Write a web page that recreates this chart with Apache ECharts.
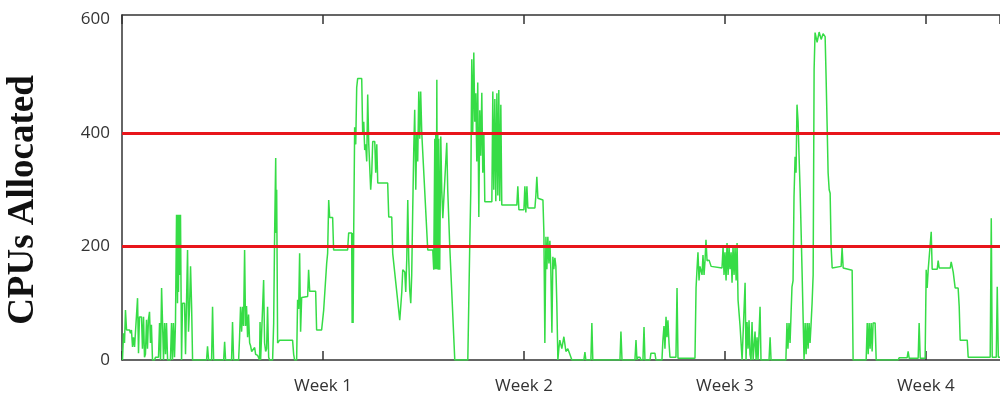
<!DOCTYPE html>
<html>
<head>
<meta charset="utf-8">
<script src="https://cdn.jsdelivr.net/npm/echarts@6/dist/echarts.min.js"></script>
<style>
html,body{margin:0;padding:0;background:#fff;}
#chart{width:1000px;height:396px;}
</style>
</head>
<body>
<div id="chart"></div>
<script>
// Time in hours since start, CPUs allocated
var hours = [
0.4,1.3,2.1,2.9,3.8,6.3,7.1,7.9,8.8,9.6,10.5,12.1,13.0,13.8,14.6,16.3,17.1,18.0,18.8,19.6,
20.5,21.3,22.1,23.0,23.8,24.6,25.5,27.2,28.0,30.5,31.4,32.2,33.1,33.9,34.7,35.6,36.4,37.2,38.1,40.5,
41.4,42.2,43.0,43.9,44.7,45.6,46.4,46.8,47.2,47.7,48.1,48.9,49.8,50.6,52.3,53.1,54.8,55.6,56.5,57.3,
58.2,59.0,70.7,71.5,72.4,74.9,75.7,76.6,85.0,85.8,86.6,91.6,92.4,93.3,97.5,98.3,99.1,100.0,100.8,101.6,
102.5,103.3,104.1,105.0,105.8,106.7,107.5,108.4,110.0,110.9,111.7,113.4,114.2,115.0,115.4,115.9,117.5,118.4,119.2,120.1,
120.9,121.7,122.6,123.4,125.9,126.8,127.6,128.5,128.9,129.3,130.1,131.8,142.6,143.5,144.3,146.0,146.8,147.7,148.5,149.3,
150.2,151.0,155.2,156.0,156.9,161.9,162.7,166.9,167.7,168.6,170.2,171.1,171.9,172.8,173.6,176.1,176.9,188.6,189.5,192.0,
192.4,192.8,193.2,193.7,194.5,195.4,196.2,197.0,200.4,201.2,202.1,202.9,203.7,204.6,205.4,206.3,207.9,208.8,209.6,211.3,
212.1,213.0,213.8,222.1,223.0,225.5,226.3,232.2,233.9,234.7,236.4,237.2,238.1,238.9,239.7,240.5,241.4,242.2,243.0,243.9,
244.7,245.6,246.4,247.2,248.1,248.9,249.7,250.6,252.3,255.6,259.8,260.6,261.5,261.9,262.3,262.7,263.2,263.6,264.0,264.4,
264.8,265.6,266.5,267.3,268.2,271.5,272.3,273.2,274.0,278.2,289.1,289.9,290.7,291.6,292.4,293.2,294.1,294.9,295.8,296.6,
297.4,298.3,299.1,299.9,300.8,301.6,302.5,303.3,309.2,310.0,310.8,311.7,312.5,313.4,314.2,315.0,315.8,316.7,317.5,330.1,
330.9,331.8,336.0,336.8,337.6,338.5,339.3,345.2,346.0,346.8,347.7,351.9,352.7,353.5,354.4,355.2,356.0,356.9,357.7,358.5,
359.4,360.2,361.0,361.9,362.7,363.5,364.4,365.2,366.0,367.7,369.4,371.1,372.7,374.4,376.1,386.1,387.0,387.8,392.0,392.8,
393.6,416.3,417.1,418.0,428.8,429.7,430.5,431.3,433.0,433.8,435.5,436.4,437.2,441.4,442.2,445.5,446.4,451.4,452.2,453.1,
453.9,454.8,455.6,456.4,457.3,458.1,463.1,464.0,464.8,479.0,479.9,480.7,481.5,482.4,483.2,484.9,485.7,486.6,487.4,488.2,
489.1,490.8,492.5,493.3,501.6,502.5,503.3,504.1,505.0,505.8,506.7,507.5,508.3,509.2,510.0,510.8,511.7,512.5,513.4,514.2,
515.0,516.7,518.4,520.0,520.9,521.7,522.5,523.4,524.2,525.0,525.9,526.7,527.6,529.2,530.1,530.9,531.7,533.4,534.2,540.9,
541.8,542.6,555.0,555.9,556.7,557.6,558.5,559.3,560.1,561.0,561.8,562.7,563.5,564.3,565.2,566.0,566.9,568.6,570.2,571.1,
571.9,572.8,573.6,574.4,575.2,576.1,576.9,577.8,578.6,579.4,581.1,582.8,584.5,586.1,587.8,588.6,589.5,590.3,591.2,592.0,
592.8,593.7,601.2,602.0,602.9,610.4,611.2,622.1,623.0,623.8,624.6,625.4,626.3,627.1,627.9,629.6,630.5,648.8,649.7,656.4,
657.2,658.1,665.6,666.4,667.3,671.4,672.3,673.1,674.0,675.6,676.5,677.3,681.5,682.3,683.2,692.4,693.2,694.9,696.5,699.0,
699.9,700.7,706.6,707.4,725.8,726.7,727.5,730.9,731.7,732.6,734.0
];
var cpus = [
0,47,30,88,53,53,47,53,23,40,23,20,109,12,76,76,20,76,5,10,
71,20,71,85,30,62,0,0,5,5,65,0,127,65,0,65,10,65,0,0,
65,0,65,5,65,256,100,256,120,256,150,256,0,100,100,10,194,50,94,165,
94,0,0,24,0,0,94,0,0,32,0,0,67,0,0,40,94,50,94,60,
194,60,95,40,80,30,25,15,15,22,10,8,5,0,67,0,0,141,30,15,
20,94,5,0,0,65,224,356,224,300,30,35,35,10,0,0,106,90,188,50,
110,112,112,159,121,121,53,53,50,88,88,170,188,282,251,251,194,194,224,224,
65,224,65,224,410,380,480,496,496,400,420,370,380,350,468,380,300,330,385,385,
330,380,312,312,252,252,188,70,120,159,155,120,180,282,180,124,100,150,260,370,
441,300,400,350,473,390,473,400,330,194,194,159,390,160,400,160,494,160,400,159,
390,159,394,300,250,383,300,247,200,0,0,100,200,300,530,400,542,420,470,350,
489,252,440,360,471,330,400,279,279,473,300,460,280,470,290,476,280,450,273,273,
306,265,265,306,260,306,268,268,290,323,285,282,224,30,217,160,217,170,210,160,
48,182,160,180,165,100,0,20,35,20,41,15,20,10,0,0,14,0,0,65,
0,0,50,0,0,35,0,5,5,0,0,58,0,0,12,12,0,0,35,60,
20,76,40,70,30,5,5,127,3,3,127,160,190,140,165,150,185,150,175,212,
175,176,165,162,162,200,150,190,140,206,150,200,160,190,136,200,150,200,140,206,
106,60,0,0,136,0,67,20,70,10,0,67,0,50,0,40,0,94,0,0,
40,0,0,65,20,65,30,80,129,140,288,358,330,450,420,360,300,150,0,65,
10,65,20,65,30,65,100,150,512,577,560,578,565,575,570,500,412,330,300,294,
200,162,165,198,162,158,0,0,65,10,65,20,65,15,65,65,0,0,4,4,
15,3,3,65,3,3,159,127,160,160,226,160,160,175,162,162,173,155,127,127,
94,35,35,5,5,250,5,5,129,5,5
];
var thresholds = [200, 400];
var weekLabels = ['Week 1', 'Week 2', 'Week 3', 'Week 4'];
var hoursPerWeek = 168;
var yTicks = [0, 200, 400, 600];

var seriesData = hours.map(function (h, i) { return [h, cpus[i]]; });

var chart = echarts.init(document.getElementById('chart'), null, {renderer: 'canvas'});
var axisColor = '#333';
function weekFmt(v) {
  if (v > 0 && Math.abs(v % hoursPerWeek) < 1e-6) return weekLabels[v / hoursPerWeek - 1] || '';
  return '';
}
chart.setOption({
  animation: false,
  backgroundColor: '#fff',
  grid: {left: 122, right: 0, top: 15, bottom: 36},
  graphic: [{
    type: 'text',
    x: 23, y: 200,
    rotation: Math.PI / 2,
    style: {
      text: 'CPUs Allocated',
      font: 'bold 37px "Liberation Serif", "Times New Roman", serif',
      fill: '#111',
      textAlign: 'center',
      textVerticalAlign: 'middle'
    }
  }],
  xAxis: [{
    type: 'value', min: 0, max: 734, interval: hoursPerWeek, position: 'bottom',
    axisLine: {show: true, lineStyle: {color: axisColor, width: 1.5}},
    axisTick: {show: true, inside: true, length: 9, lineStyle: {color: axisColor, width: 1.5}},
    axisLabel: {formatter: weekFmt, color: '#333', fontSize: 17, fontFamily: '"Open Sans", sans-serif', margin: 18, showMaxLabel: false},
    splitLine: {show: false}
  }, {
    type: 'value', min: 0, max: 734, interval: hoursPerWeek, position: 'top',
    axisLine: {show: true, lineStyle: {color: axisColor, width: 1.5}},
    axisTick: {show: true, inside: true, length: 9, lineStyle: {color: axisColor, width: 1.5}},
    axisLabel: {show: false},
    splitLine: {show: false}
  }],
  yAxis: {
    type: 'value', min: 0, max: 608, interval: 200,
    axisLine: {show: true, lineStyle: {color: axisColor, width: 1.5}},
    axisTick: {show: false},
    axisLabel: {
      formatter: function (v) { return yTicks.indexOf(v) >= 0 ? String(v) : ''; },
      color: '#333', fontSize: 17, fontFamily: '"Open Sans", sans-serif', margin: 12,
      padding: [5, 0, 0, 0]
    },
    splitLine: {show: false}
  },
  series: [{
    type: 'line',
    data: seriesData,
    showSymbol: false,
    symbol: 'none',
    lineStyle: {color: '#36dc46', width: 1.5},
    z: 2
  }, {
    type: 'line',
    data: [],
    symbol: 'none',
    z: 3,
    markLine: {
      silent: true,
      symbol: 'none',
      label: {show: false},
      lineStyle: {color: '#e8151b', width: 3, type: 'solid'},
      data: thresholds.map(function (t) { return {yAxis: t}; })
    }
  }]
});
</script>
</body>
</html>
